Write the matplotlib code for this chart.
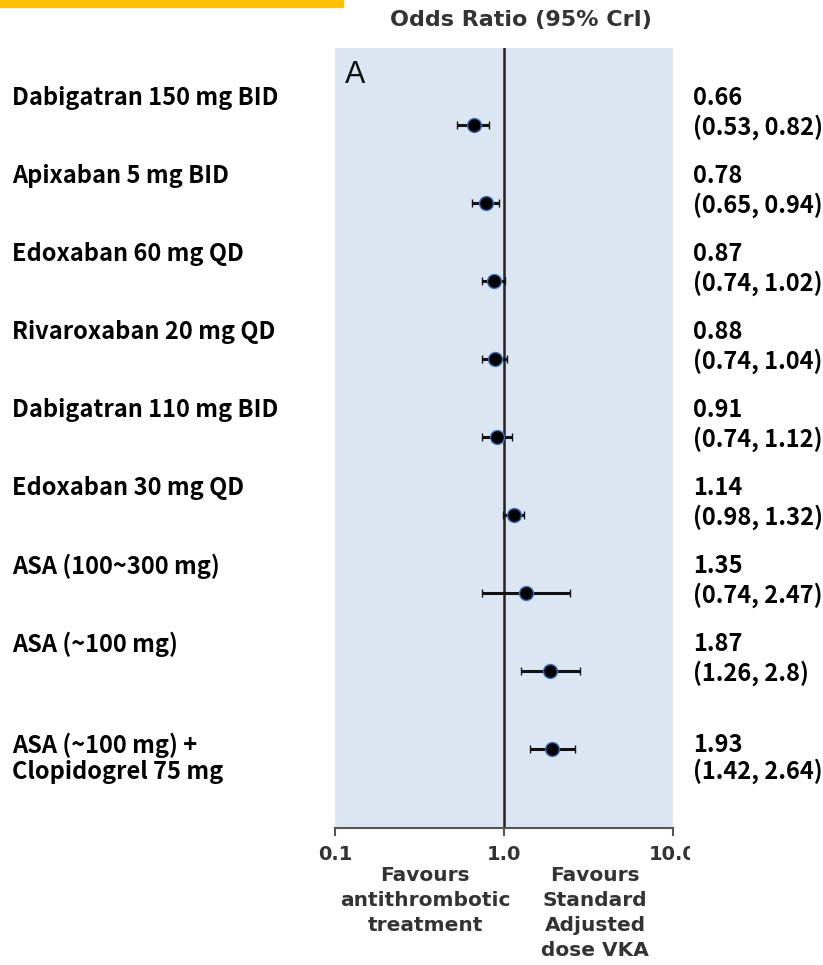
import matplotlib.pyplot as plt
import matplotlib.transforms as mtransforms
from matplotlib.patches import Rectangle

# data
labels = ['Dabigatran 150 mg BID', 'Apixaban 5 mg BID', 'Edoxaban 60 mg QD',
          'Rivaroxaban 20 mg QD', 'Dabigatran 110 mg BID', 'Edoxaban 30 mg QD',
          'ASA (100~300 mg)', 'ASA (~100 mg)', 'ASA (~100 mg) +\nClopidogrel 75 mg']
odds = [0.66, 0.78, 0.87, 0.88, 0.91, 1.14, 1.35, 1.87, 1.93]
low = [0.53, 0.65, 0.74, 0.74, 0.74, 0.98, 0.74, 1.26, 1.42]
high = [0.82, 0.94, 1.02, 1.04, 1.12, 1.32, 2.47, 2.8, 2.64]
ci_text = ['(0.53, 0.82)', '(0.65, 0.94)', '(0.74, 1.02)', '(0.74, 1.04)',
           '(0.74, 1.12)', '(0.98, 1.32)', '(0.74, 2.47)', '(1.26, 2.8)',
           '(1.42, 2.64)']
or_text = ['0.66', '0.78', '0.87', '0.88', '0.91', '1.14', '1.35', '1.87', '1.93']
xticks = [0.1, 1.0, 10.0]
xtick_labels = ['0.1', '1.0', '10.0']

W, H = 823, 965
fig = plt.figure(figsize=(W / 100, H / 100), dpi=100)

# yellow strip top left
fig.patches.append(Rectangle((0, 1 - 7 / H), 343 / W, 7 / H, transform=fig.transFigure,
                             color='#FFC000', zorder=0))

ax = fig.add_axes([335 / W, (H - 828) / H, 338 / W, 780 / H])
ax.set_facecolor('#DCE6F2')
ax.set_xscale('log')
ax.set_xlim(0.1, 10)
ax.set_ylim(9.01, -0.99)

ypos = list(range(len(odds)))
xerr = [[o - l for o, l in zip(odds, low)], [h - o for o, h in zip(odds, high)]]
ax.errorbar(odds, ypos, xerr=xerr, fmt='o', color='black', ecolor='#111111',
            elinewidth=2.2, capsize=3, capthick=2.2, markersize=10,
            markeredgecolor='#3A6FC0', markeredgewidth=1.0)
ax.axvline(1.0, color='#222222', lw=1.8, zorder=1)

for s in ['top', 'left', 'right']:
    ax.spines[s].set_visible(False)
ax.spines['bottom'].set_color('#555555')
ax.spines['bottom'].set_linewidth(1.5)
ax.set_yticks([])
ax.set_xticks(xticks)
ax.set_xticks([], minor=True)
ax.tick_params(axis='x', direction='out', length=6, width=1.5, color='#555555',
               labelsize=0)
ax.set_xticklabels(['', '', ''])

ax.text(0.03, 0.985, 'A', transform=ax.transAxes, fontsize=22, family='Liberation Sans',
        va='top', ha='left', color='#111111')

# tick labels drawn as text (last one is cut off in the source)
tr = mtransforms.blended_transform_factory(ax.transData, fig.transFigure)
for x, t in zip(xticks, xtick_labels):
    txt = fig.text(x, 1 - 855 / H, t, transform=tr, ha='center', va='center',
                   fontsize=14, fontweight='bold', family='DejaVu Sans', color='#333333')
    clip = Rectangle((0, 0), 690 / W, 1, transform=fig.transFigure)
    txt.set_clip_path(clip)

fig.text(425 / W, 1 - 866 / H, 'Favours\nantithrombotic\ntreatment', ha='center', va='top',
         fontsize=14.5, fontweight='bold', family='DejaVu Sans', color='#333333',
         linespacing=1.4)
fig.text(595 / W, 1 - 866 / H, 'Favours\nStandard\nAdjusted\ndose VKA', ha='center', va='top',
         fontsize=14.5, fontweight='bold', family='DejaVu Sans', color='#333333',
         linespacing=1.4)

fig.text(521 / W, 1 - 20 / H, 'Odds Ratio (95% CrI)', ha='center', va='center',
         fontsize=16, fontweight='bold', family='DejaVu Sans', color='#333333')

# row labels and values
ty = mtransforms.blended_transform_factory(fig.transFigure, ax.transData)
fs = 17
for i in ypos:
    lab = labels[i]
    if '\n' in lab:
        fig.text(12 / W, i + 0.12, lab, transform=ty, ha='left', va='center', fontsize=fs,
                 fontweight='bold', family='Noto Sans CJK KR', color='black', linespacing=1.1)
        fig.text(693 / W, i + 0.12, or_text[i] + '\n' + ci_text[i], transform=ty, ha='left',
                 va='center', fontsize=fs, fontweight='bold', family='Noto Sans CJK KR',
                 color='black', linespacing=1.1)
    else:
        fig.text(12 / W, i - 0.35, lab, transform=ty, ha='left', va='center', fontsize=fs,
                 fontweight='bold', family='Noto Sans CJK KR', color='black')
        fig.text(693 / W, i - 0.35, or_text[i], transform=ty, ha='left', va='center',
                 fontsize=fs, fontweight='bold', family='Noto Sans CJK KR', color='black')
        fig.text(693 / W, i + 0.03, ci_text[i], transform=ty, ha='left', va='center',
                 fontsize=fs, fontweight='bold', family='Noto Sans CJK KR', color='black')

fig.savefig('out.png', dpi=100)
